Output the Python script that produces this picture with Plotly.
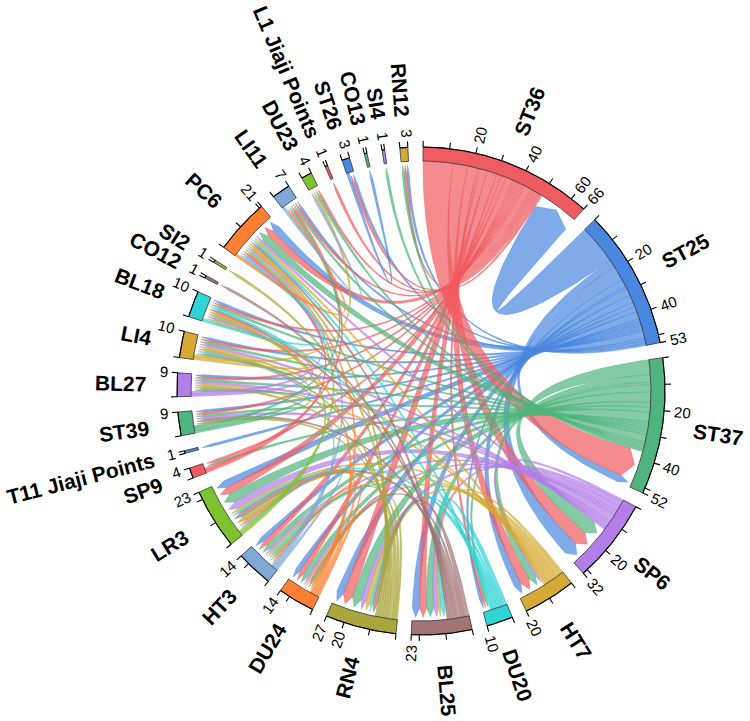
import math
import plotly.graph_objects as go

# sectors clockwise from the top, with their totals
sectors = ["ST36", "ST25", "ST37", "SP6", "HT7", "DU20", "BL25", "RN4", "DU24", "HT3",
           "LR3", "SP9", "T11 Jiaji Points", "ST39", "BL27", "LI4", "BL18", "CO12", "SI2",
           "PC6", "LI11", "DU23", "L1 Jiaji Points", "ST26", "CO13", "SI4", "RN12"]
sector_totals = [66, 53, 52, 32, 20, 10, 23, 27, 14, 14, 23, 4, 1, 9, 9, 10, 10, 1, 1,
                 21, 7, 4, 1, 3, 1, 1, 3]
palette = ["#EF5B60", "#4A87E0", "#50B47E", "#B47EE8", "#D5A932", "#30D4D6",
           "#A37474", "#A8A63C", "#FF8030", "#80A8D7", "#7EC230"]

# order of rows in the link matrix (links go from earlier row to later sector)
row_order = ["ST25", "ST36", "ST37"] + [s for s in sectors[3:]]

link_src = (["ST25"] * 19 + ["ST36"] * 20 + ["ST37"] * 18 + ["SP6"] * 10 + ["HT7"] * 8 +
            ["DU20"] * 6 + ["BL25"] * 7 + ["RN4"] * 8 + ["DU24"] * 4 + ["HT3"] * 3 +
            ["LR3"] * 2 + ["SP9"] * 2 + ["ST39"] * 3 + ["BL27"] * 2 + ["LI4"] * 2 +
            ["BL18", "PC6", "LI11", "ST26"])
link_dst = [
    # ST25
    "ST36", "ST37", "SP6", "HT7", "DU20", "BL25", "RN4", "DU24", "HT3", "LR3",
    "T11 Jiaji Points", "ST39", "BL27", "LI4", "BL18", "PC6", "LI11", "ST26", "RN12",
    # ST36
    "ST37", "SP6", "HT7", "DU20", "BL25", "RN4", "DU24", "HT3", "LR3", "SP9",
    "ST39", "BL27", "LI4", "BL18", "PC6", "LI11", "DU23", "L1 Jiaji Points", "ST26", "RN12",
    # ST37
    "SP6", "HT7", "DU20", "BL25", "RN4", "DU24", "HT3", "LR3", "SP9",
    "ST39", "BL27", "LI4", "BL18", "PC6", "LI11", "DU23", "SI4", "RN12",
    # SP6
    "HT7", "BL25", "RN4", "DU24", "HT3", "LR3", "ST39", "BL27", "LI4", "PC6",
    # HT7
    "BL25", "RN4", "DU24", "HT3", "LR3", "BL27", "LI4", "PC6",
    # DU20
    "BL25", "RN4", "HT3", "LR3", "BL18", "PC6",
    # BL25
    "RN4", "DU24", "LR3", "ST39", "BL18", "PC6", "CO12",
    # RN4
    "DU24", "HT3", "LR3", "ST39", "BL27", "LI4", "PC6", "SI2",
    # DU24
    "HT3", "LR3", "BL18", "PC6",
    # HT3
    "LR3", "LI4", "PC6",
    # LR3
    "BL18", "PC6",
    # SP9
    "PC6", "LI11",
    # ST39
    "BL27", "LI4", "LI11",
    # BL27
    "BL18", "PC6",
    # LI4
    "BL18", "DU23",
    # BL18, PC6, LI11, ST26
    "PC6", "LI11", "DU23", "CO13",
]
link_val = [
    16, 3, 6, 3, 1, 3, 3, 2, 2, 3, 1, 1, 1, 1, 1, 3, 1, 1, 1,
    12, 6, 4, 1, 3, 4, 2, 2, 3, 1, 1, 1, 1, 1, 3, 1, 1, 1, 1, 1,
    6, 3, 1, 3, 4, 2, 2, 4, 1, 1, 1, 1, 1, 3, 1, 1, 1, 1,
    1, 2, 2, 1, 1, 3, 1, 1, 1, 1,
    1, 2, 1, 1, 1, 1, 1, 1,
    2, 1, 1, 1, 1, 1,
    2, 1, 2, 1, 1, 1, 1,
    1, 1, 2, 1, 1, 1, 1, 1,
    1, 1, 1, 1,
    1, 1, 1,
    1, 1,
    1, 1,
    1, 1, 1,
    1, 1,
    1, 1,
    1, 1, 1, 1,
]

# geometry
GAP = 3.6
START = 89.5
UNIT = (360 - GAP * len(sectors)) / sum(sector_totals)
R_OUT, R_IN = 244, 230
TIP_R, ARROW = 226, 9
TICK = 6
FONT = "Liberation Sans, Arial, sans-serif"

idx = {n: i for i, n in enumerate(sectors)}
rpos = {n: i for i, n in enumerate(row_order)}
color = {n: palette[i % len(palette)] for i, n in enumerate(sectors)}

tot_check = {n: 0 for n in sectors}
for s, d, v in zip(link_src, link_dst, link_val):
    tot_check[s] += v
    tot_check[d] += v
assert [tot_check[n] for n in sectors] == sector_totals, tot_check

sec_start = {}
a = START
for n, t in zip(sectors, sector_totals):
    sec_start[n] = a
    a -= t * UNIT + GAP


def ang(n, pos):
    return sec_start[n] - pos * UNIT


def pt(theta, r):
    t = math.radians(theta)
    return r * math.cos(t), r * math.sin(t)


def arc(t1, t2, r, n=None):
    if n is None:
        n = max(3, int(abs(t2 - t1) * 2) + 2)
    return [pt(t1 + (t2 - t1) * i / (n - 1), r) for i in range(n)]


def bez(p0, p2, n=40):
    out = []
    for i in range(n):
        t = i / (n - 1)
        out.append(((1 - t) ** 2 * p0[0] + t * t * p2[0], (1 - t) ** 2 * p0[1] + t * t * p2[1]))
    return out


def rgba(hx, al):
    h = hx.lstrip("#")
    return "rgba(%d,%d,%d,%.2f)" % (int(h[0:2], 16), int(h[2:4], 16), int(h[4:6], 16), al)


# positions of link ends on each sector: outgoing first, then incoming
ends = {n: [] for n in sectors}
for k, (s, d) in enumerate(zip(link_src, link_dst)):
    ends[s].append((0, idx[d], k))
    ends[d].append((1, -rpos[s], k))
src_pos, dst_pos = {}, {}
for n in sectors:
    cur = 0
    for kind, key, k in sorted(ends[n]):
        v = link_val[k]
        if kind == 0:
            src_pos[k] = (cur, cur + v)
        else:
            dst_pos[k] = (cur, cur + v)
        cur += v

fig = go.Figure()

for k, (s, d, v) in enumerate(zip(link_src, link_dst, link_val)):
    s1, s2 = ang(s, src_pos[k][0]), ang(s, src_pos[k][1])
    t1, t2 = ang(d, dst_pos[k][0]), ang(d, dst_pos[k][1])
    rb = TIP_R - ARROW
    pts = arc(s1, s2, R_IN)
    pts += bez(pt(s2, R_IN), pt(t1, rb))
    pts += [pt((t1 + t2) / 2, TIP_R)]
    pts += bez(pt(t2, rb), pt(s1, R_IN))
    xs = [p[0] for p in pts] + [pts[0][0]]
    ys = [p[1] for p in pts] + [pts[0][1]]
    fig.add_trace(go.Scatter(x=xs, y=ys, mode="lines", fill="toself",
                             fillcolor=rgba(color[s], 0.7),
                             line=dict(color=rgba(color[s], 0.85), width=0.5),
                             hoverinfo="skip"))

# sector tracks
for n, t in zip(sectors, sector_totals):
    a1, a2 = ang(n, 0), ang(n, t)
    pts = arc(a1, a2, R_OUT) + arc(a2, a1, R_IN)
    xs = [p[0] for p in pts] + [pts[0][0]]
    ys = [p[1] for p in pts] + [pts[0][1]]
    fig.add_trace(go.Scatter(x=xs, y=ys, mode="lines", fill="toself", fillcolor=color[n],
                             line=dict(color="#333333", width=0.8), hoverinfo="skip"))

# axes with ticks
ax_x, ax_y = [], []
for n, t in zip(sectors, sector_totals):
    for p in arc(ang(n, 0), ang(n, t), R_OUT):
        ax_x.append(p[0])
        ax_y.append(p[1])
    ax_x.append(None)
    ax_y.append(None)
    ticks = list(range(0, t + 1, 10))
    if t not in ticks:
        ticks.append(t)
    for v in ticks:
        p1, p2 = pt(ang(n, v), R_OUT), pt(ang(n, v), R_OUT + TICK)
        ax_x += [p1[0], p2[0], None]
        ax_y += [p1[1], p2[1], None]
fig.add_trace(go.Scatter(x=ax_x, y=ax_y, mode="lines", line=dict(color="black", width=1.1),
                         hoverinfo="skip"))

# text
W_BOLD = {"S": .667, "T": .611, "B": .722, "L": .611, "C": .722, "D": .722, "H": .722,
          "R": .722, "N": .722, "P": .667, "I": .278, "J": .556, " ": .278, "i": .278,
          "a": .556, "j": .278, "o": .611, "n": .611, "t": .333, "s": .556}


def text_w(txt, size):
    return sum(W_BOLD.get(c, .556) for c in txt) * size


def radial_text(theta, r0, txt, size, weight):
    th = (theta + 180) % 360 - 180
    if -90 < th <= 90:
        tang = -th
    else:
        tang = 180 - th if th > 0 else -180 - th
    w = text_w(txt, size)
    cx, cy = pt(theta, r0 + w / 2)
    fig.add_annotation(x=cx, y=cy, text=txt, showarrow=False, textangle=tang,
                       xanchor="center", yanchor="middle",
                       font=dict(family=FONT, size=size, color="black", weight=weight))


for n, t in zip(sectors, sector_totals):
    labels = [v for v in range(20, t + 1, 20) if t - v >= 5] + [t]
    for v in labels:
        radial_text(ang(n, v), R_OUT + 10, str(v), 15, "normal")
    radial_text(ang(n, t / 2), 275, n, 21, "bold")

# circle centre at pixel (421, 391) of the 750x721 page
fig.update_layout(
    width=750, height=721,
    margin=dict(l=0, r=0, t=0, b=0),
    paper_bgcolor="white", plot_bgcolor="white",
    showlegend=False,
    xaxis=dict(range=[-421, 329], visible=False, fixedrange=True),
    yaxis=dict(range=[-330, 391], visible=False, fixedrange=True),
)

fig.write_html("out.html", config={"displayModeBar": False},
               post_script="document.body.style.margin='0px';"
                           "document.body.style.overflow='hidden';")
